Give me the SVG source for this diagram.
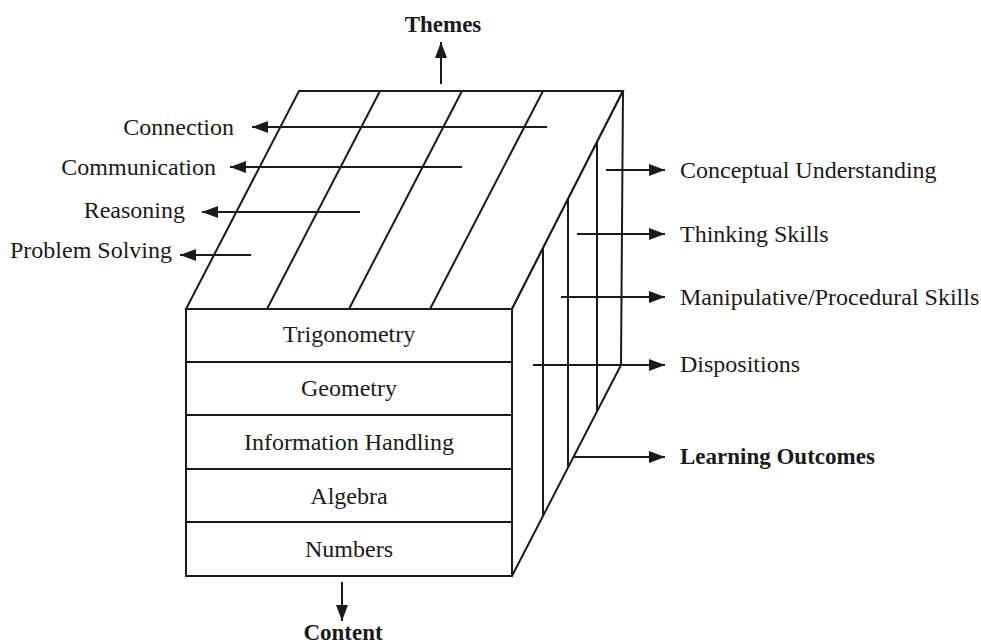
<svg xmlns="http://www.w3.org/2000/svg" width="981" height="644" viewBox="0 0 981 644">
<style>
.ln{stroke:#1a1a1a;stroke-width:2;fill:none;stroke-linejoin:miter}
.face{stroke:#1a1a1a;stroke-width:2;fill:#fff}
.arr{stroke:#1a1a1a;stroke-width:2;fill:none;marker-end:url(#ah)}
text{font-family:"Liberation Serif","Times New Roman",serif;font-size:24px;fill:#1a1a1a}
.b{font-weight:bold;font-size:23px}
.c{text-anchor:middle}
.r{text-anchor:end}
</style>
<defs>
<marker id="ah" viewBox="0 0 16 12" refX="16" refY="6" markerWidth="16" markerHeight="12" orient="auto" markerUnits="userSpaceOnUse"><path d="M0,0 L16,6 L0,12 z" fill="#1a1a1a"/></marker>
</defs>
<rect width="981" height="644" fill="#fff"/>
<g id="top-face">
<polygon class="face" points="299,91 623,91 512,309 186,309"/>
<line class="ln" x1="380" y1="91" x2="267" y2="309"/>
<line class="ln" x1="462" y1="91" x2="349" y2="309"/>
<line class="ln" x1="543" y1="91" x2="430" y2="309"/>
</g>
<g id="right-face">
<polygon class="face" points="623,91 621,365 512,576 512,309"/>
<line class="ln" x1="597" y1="142" x2="597" y2="411"/>
<line class="ln" x1="568" y1="199" x2="568" y2="468"/>
<line class="ln" x1="543" y1="248" x2="543" y2="516"/>
</g>
<g id="front-face">
<rect class="face" x="186" y="309" width="326" height="267"/>
<line class="ln" x1="186" y1="362" x2="512" y2="362"/>
<line class="ln" x1="186" y1="415" x2="512" y2="415"/>
<line class="ln" x1="186" y1="469" x2="512" y2="469"/>
<line class="ln" x1="186" y1="522" x2="512" y2="522"/>
</g>
<g id="content-rows">
<g id="trigonometry"><text class="c" x="349" y="342">Trigonometry</text></g>
<g id="geometry"><text class="c" x="349" y="396">Geometry</text></g>
<g id="information-handling"><text class="c" x="349" y="450">Information Handling</text></g>
<g id="algebra"><text class="c" x="349" y="504">Algebra</text></g>
<g id="numbers"><text class="c" x="349" y="557">Numbers</text></g>
</g>
<g id="connectors">
<line class="arr" x1="441" y1="84" x2="441" y2="42"/>
<line class="arr" x1="342" y1="582" x2="342" y2="621"/>
<line class="arr" x1="547" y1="127" x2="252" y2="127"/>
<line class="arr" x1="462" y1="167" x2="230" y2="167"/>
<line class="arr" x1="360" y1="212" x2="202" y2="212"/>
<line class="arr" x1="251" y1="255" x2="180" y2="255"/>
<line class="arr" x1="606" y1="170" x2="665" y2="170"/>
<line class="arr" x1="577" y1="234" x2="665" y2="234"/>
<line class="arr" x1="561" y1="297" x2="665" y2="297"/>
<line class="arr" x1="533" y1="365" x2="665" y2="365"/>
<line class="arr" x1="573" y1="457" x2="665" y2="457"/>
</g>
<g id="themes"><text class="b c" x="443" y="32">Themes</text></g>
<g id="content"><text class="b c" x="343" y="640">Content</text></g>
<g id="connection"><text class="r" x="234" y="135">Connection</text></g>
<g id="communication"><text class="r" x="216" y="175">Communication</text></g>
<g id="reasoning"><text class="r" x="185" y="218">Reasoning</text></g>
<g id="problem-solving"><text class="r" x="172" y="258">Problem Solving</text></g>
<g id="conceptual-understanding"><text x="680" y="178">Conceptual Understanding</text></g>
<g id="thinking-skills"><text x="680" y="242">Thinking Skills</text></g>
<g id="manipulative-skills"><text x="680" y="305">Manipulative/Procedural Skills</text></g>
<g id="dispositions"><text x="680" y="372">Dispositions</text></g>
<g id="learning-outcomes"><text class="b" x="680" y="464">Learning Outcomes</text></g>
</svg>
